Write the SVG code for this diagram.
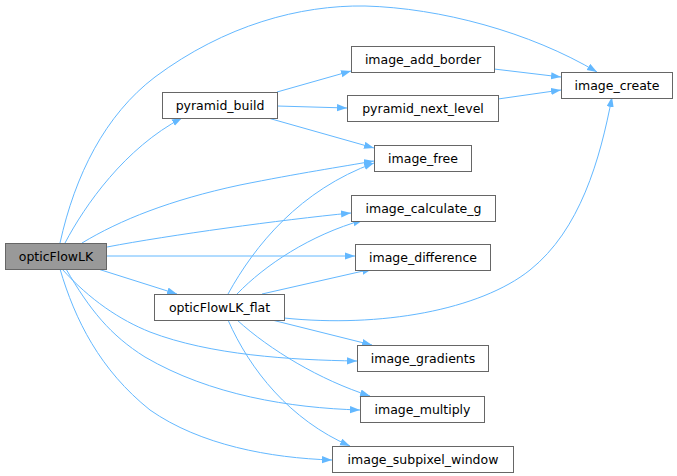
<svg xmlns="http://www.w3.org/2000/svg" width="677" height="476" viewBox="0 0 677 476">
<style>
.n rect{fill:#fff;stroke:#666;stroke-width:1}
.n text{font-family:"DejaVu Sans",sans-serif;font-size:12.5px;fill:#000;text-anchor:middle}
#n0 rect{fill:#999}
.e path{fill:none;stroke:#63b8ff;stroke-width:1}
</style>
<defs>
<marker id="a" markerUnits="userSpaceOnUse" markerWidth="11" markerHeight="8" refX="10" refY="3.6" orient="auto">
<path d="M0,0 L10,3.6 L0,7.2 z" fill="#63b8ff"/>
</marker>
</defs>
<rect width="677" height="476" fill="#fff"/>
<g class="e" marker-end="url(#a)">
<path d="M60,243 C75,175 105,115 155,77 C225,25 300,5 365,6 C440,8 530,32 597,72" marker-end="url(#a)"/>
<path d="M65,243 C85,205 125,148 182,118" marker-end="url(#a)"/>
<path d="M82,243 C120,220 170,200 240,185 C300,173 340,167 374,161" marker-end="url(#a)"/>
<path d="M107,247 C170,235 280,220 351,213" marker-end="url(#a)"/>
<path d="M107,256 L355,256" marker-end="url(#a)"/>
<path d="M98,269 L177,294" marker-end="url(#a)"/>
<path d="M62,269 C90,300 120,320 150,332 C210,355 290,360 357,361" marker-end="url(#a)"/>
<path d="M66,269 C90,310 110,335 145,357 C210,395 290,408 360,410" marker-end="url(#a)"/>
<path d="M60,269 C75,320 100,370 150,410 C200,445 270,458 332,460" marker-end="url(#a)"/>
<path d="M277,92 L351,71" marker-end="url(#a)"/>
<path d="M277,106 L347,108" marker-end="url(#a)"/>
<path d="M268,118 L374,148" marker-end="url(#a)"/>
<path d="M494,69 L561,77" marker-end="url(#a)"/>
<path d="M498,99 L561,90" marker-end="url(#a)"/>
<path d="M228,294 C255,245 300,190 374,163" marker-end="url(#a)"/>
<path d="M237,294 C265,265 310,235 363,220" marker-end="url(#a)"/>
<path d="M262,294 L372,269" marker-end="url(#a)"/>
<path d="M284,318 C380,328 480,310 530,270 C580,230 600,160 612,97" marker-end="url(#a)"/>
<path d="M272,320 L372,345" marker-end="url(#a)"/>
<path d="M237,320 C270,350 320,380 370,396" marker-end="url(#a)"/>
<path d="M228,320 C250,370 290,420 350,446" marker-end="url(#a)"/>
</g>
<g id="n0" class="n"><rect x="5.5" y="243.5" width="101" height="26"/><text x="56" y="261">opticFlowLK</text></g>
<g id="n1" class="n"><rect x="162.5" y="92.5" width="115" height="26"/><text x="220" y="110">pyramid_build</text></g>
<g id="n2" class="n"><rect x="154.5" y="294.5" width="130" height="26"/><text x="219.5" y="312">opticFlowLK_flat</text></g>
<g id="n3" class="n"><rect x="351.5" y="46.5" width="143" height="26"/><text x="423" y="64">image_add_border</text></g>
<g id="n4" class="n"><rect x="347.5" y="95.5" width="151" height="26"/><text x="423" y="113">pyramid_next_level</text></g>
<g id="n5" class="n"><rect x="374.5" y="145.5" width="97" height="26"/><text x="423" y="163">image_free</text></g>
<g id="n6" class="n"><rect x="351.5" y="195.5" width="144" height="26"/><text x="423.5" y="213">image_calculate_g</text></g>
<g id="n7" class="n"><rect x="355.5" y="244.5" width="135" height="26"/><text x="423" y="262">image_difference</text></g>
<g id="n8" class="n"><rect x="357.5" y="345.5" width="131" height="26"/><text x="423" y="363">image_gradients</text></g>
<g id="n9" class="n"><rect x="360.5" y="396.5" width="124" height="26"/><text x="422.5" y="414">image_multiply</text></g>
<g id="n10" class="n"><rect x="332.5" y="446.5" width="181" height="26"/><text x="423" y="464">image_subpixel_window</text></g>
<g id="n11" class="n"><rect x="561.5" y="72.5" width="111" height="26"/><text x="617" y="90">image_create</text></g>
</svg>
